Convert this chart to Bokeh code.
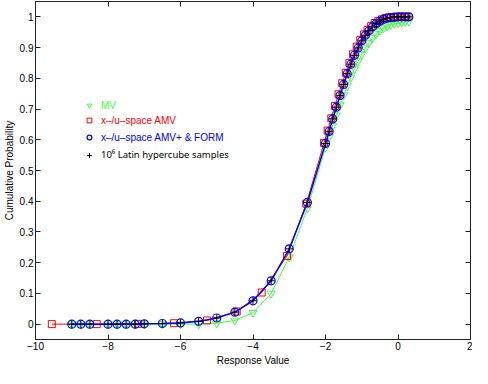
from bokeh.plotting import figure
from bokeh.models import Range1d, LinearAxis, FixedTicker, NumeralTickFormatter, Legend, LegendItem
from bokeh.embed import file_html
from bokeh.resources import INLINE

# ---- data ----
x_common = [-9.0, -8.75, -8.5, -8.0, -7.75, -7.5, -7.25, -7.0, -6.5, -6.0, -5.5, -5.0,
            -4.5, -4.0, -3.5, -3.0, -2.5, -2.0, -1.9, -1.8, -1.7, -1.6, -1.5, -1.4,
            -1.3, -1.2, -1.1, -1.0, -0.9, -0.8, -0.7, -0.6, -0.5, -0.4, -0.3, -0.2,
            -0.1, 0.0, 0.1, 0.2, 0.3]

mv_cdf = [0.0, 0.0, 0.0, 0.0, 0.0, 0.0, 0.0, 0.0, 0.0, 0.0, 0.0, 0.003,
          0.012, 0.037, 0.100, 0.218, 0.377, 0.575, 0.610, 0.645, 0.680, 0.713, 0.745, 0.775,
          0.803, 0.830, 0.855, 0.878, 0.898, 0.916, 0.931, 0.944, 0.955, 0.963, 0.969, 0.974,
          0.977, 0.980, 0.982, 0.984, 0.985]

amv_x = [-9.55, -8.31, -7.17, -6.18, -5.27, -4.45, -3.76, -3.06, -2.53, -2.04, -1.94, -1.84,
         -1.74, -1.64, -1.54, -1.44, -1.34, -1.24, -1.14, -1.04, -0.94, -0.84, -0.74, -0.64,
         -0.54, -0.44, -0.34, -0.24, -0.14, -0.04, 0.06, 0.16, 0.26]
amv_cdf = [0.0, 0.0, 0.001, 0.003, 0.012, 0.041, 0.103, 0.222, 0.392, 0.590, 0.630, 0.670,
           0.710, 0.748, 0.784, 0.818, 0.850, 0.878, 0.903, 0.925, 0.943, 0.958, 0.970, 0.980,
           0.987, 0.992, 0.996, 0.998, 0.999, 1.0, 1.0, 1.0, 1.0]

amvp_cdf = [0.0, 0.0, 0.0, 0.0, 0.0, 0.0, 0.0, 0.001, 0.002, 0.004, 0.009, 0.020,
            0.039, 0.076, 0.141, 0.245, 0.396, 0.588, 0.627, 0.668, 0.706, 0.744, 0.780, 0.815,
            0.846, 0.875, 0.899, 0.922, 0.940, 0.955, 0.968, 0.978, 0.986, 0.992, 0.996, 0.998,
            0.999, 1.0, 1.0, 1.0, 1.0]

lhs_cdf = [0.0, 0.0, 0.0, 0.0, 0.0, 0.0, 0.0, 0.001, 0.002, 0.004, 0.009, 0.020,
           0.039, 0.076, 0.141, 0.245, 0.396, 0.588, 0.627, 0.668, 0.706, 0.744, 0.780, 0.815,
           0.846, 0.875, 0.899, 0.922, 0.940, 0.955, 0.968, 0.978, 0.986, 0.992, 0.996, 0.998,
           0.999, 1.0, 1.0, 1.0, 1.0]

x_ticks = [-10, -8, -6, -4, -2, 0, 2]
y_ticks = [0, 0.1, 0.2, 0.3, 0.4, 0.5, 0.6, 0.7, 0.8, 0.9, 1.0]

labels = ["MV", "x\u2013/u\u2013space AMV", "x\u2013/u\u2013space AMV+ & FORM",
          "10\u2076 Latin hypercube samples"]

GREEN = "#40ff40"
RED = "#ff0000"
BLUE = "#0000ff"
BLACK = "#000000"
FONT = "Liberation Sans"

p = figure(width=472, height=368, output_backend="svg", toolbar_location=None,
           x_range=Range1d(-10, 2), y_range=Range1d(-0.05, 1.05),
           min_border_left=28, min_border_right=2, min_border_top=1, min_border_bottom=24,
           x_axis_label="Response Value", y_axis_label="Cumulative Probability")
p.xgrid.visible = False
p.ygrid.visible = False
p.outline_line_color = "#222222"
p.outline_line_width = 1
p.background_fill_color = "white"
p.border_fill_color = "white"

for ax in p.xaxis:
    ax.ticker = FixedTicker(ticks=x_ticks)
for ax in p.yaxis:
    ax.ticker = FixedTicker(ticks=y_ticks)
    ax.formatter = NumeralTickFormatter(format="0.[0]")

for ax in list(p.xaxis) + list(p.yaxis):
    ax.major_tick_in = 5
    ax.major_tick_out = 0
    ax.minor_tick_line_color = None
    ax.axis_line_color = "#222222"
    ax.major_tick_line_color = "#222222"
    ax.major_label_text_font = FONT
    ax.major_label_text_font_size = "10px"
    ax.major_label_text_color = "black"
    ax.axis_label_text_font = FONT
    ax.axis_label_text_font_size = "10px"
    ax.axis_label_text_font_style = "normal"
    ax.axis_label_text_color = "black"
    ax.major_label_standoff = 2
    ax.axis_label_standoff = 2

# mirrored ticks on top and right (no labels drawn)
top = LinearAxis(ticker=FixedTicker(ticks=x_ticks), major_label_text_font_size="1px",
                 major_label_text_color=None,
                 major_tick_in=5, major_tick_out=0, minor_tick_line_color=None,
                 major_label_standoff=0, axis_line_color=None, major_tick_line_color="#222222")
right = LinearAxis(ticker=FixedTicker(ticks=y_ticks), major_label_text_font_size="1px",
                   major_label_text_color=None,
                   major_tick_in=5, major_tick_out=0, minor_tick_line_color=None,
                   major_label_standoff=0, axis_line_color=None, major_tick_line_color="#222222")
p.add_layout(top, "above")
p.add_layout(right, "right")

# series
p.line(x_common, mv_cdf, line_color=GREEN, line_width=1)
r_mv = p.scatter(x_common, mv_cdf, marker="inverted_triangle", size=8,
                 line_color=GREEN, fill_color=None, line_width=1)

p.line(amv_x, amv_cdf, line_color=RED, line_width=1)
r_amv = p.scatter(amv_x, amv_cdf, marker="square", size=7,
                  line_color=RED, fill_color=None, line_width=1)

p.line(x_common, amvp_cdf, line_color=BLUE, line_width=1.5)
r_amvp = p.scatter(x_common, amvp_cdf, marker="circle", size=8,
                   line_color=BLUE, fill_color=None, line_width=1.2)

r_lhs = p.scatter(x_common, lhs_cdf, marker="cross", size=7,
                  line_color=BLACK, line_width=1)

# legends (one per entry so each label keeps its series colour)
rows = [(r_mv, GREEN, 228, FONT, "10px"), (r_amv, RED, 213, FONT, "10px"),
        (r_amvp, BLUE, 196, FONT, "10px"), (r_lhs, BLACK, 178, "Noto Sans", "9.5px")]
for (rend, col, yb, fnt, fs), lab in zip(rows, labels):
    lg = Legend(items=[LegendItem(label=lab, renderers=[rend])], location=(48, yb),
                padding=0, margin=0, spacing=0, glyph_width=12, glyph_height=12,
                label_height=12, label_standoff=6, border_line_color=None,
                background_fill_alpha=0, label_text_color=col,
                label_text_font=fnt, label_text_font_size=fs)
    p.add_layout(lg, "center")

open("out.html", "w").write(file_html(p, INLINE))
